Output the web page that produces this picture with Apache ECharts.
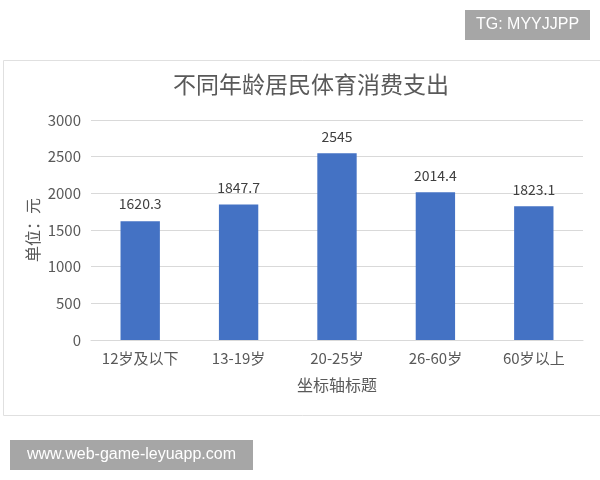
<!DOCTYPE html>
<html><head><meta charset="utf-8">
<script src="https://cdn.jsdelivr.net/npm/echarts@6/dist/echarts.min.js"></script>
<style>html,body{margin:0;padding:0;background:#fff}#c{width:600px;height:480px}</style>
</head><body><div id="c"></div>
<script>
var categories = ['12岁及以下', '13-19岁', '20-25岁', '26-60岁', '60岁以上'];
var values = [1620.3, 1847.7, 2545, 2014.4, 1823.1];
var yTicks = [0, 500, 1000, 1500, 2000, 2500, 3000];
var titleText = '不同年龄居民体育消费支出';
var xName = '坐标轴标题';
var yName = '单位：元';
var mark1 = 'TG: MYYJJPP';
var mark2 = 'www.web-game-leyuapp.com';

var font = '"Noto Sans CJK SC", "Noto Sans", sans-serif';
var chart = echarts.init(document.getElementById('c'), null, {renderer: 'canvas'});
chart.setOption({
  backgroundColor: '#fff',
  animation: false,
  textStyle: {fontFamily: font},
  title: {
    text: titleText, left: 168, top: 68,
    textStyle: {fontSize: 23, fontWeight: 'normal', color: '#595959', fontFamily: font}
  },
  grid: {left: 91, right: 17, top: 120, bottom: 140, containLabel: false},
  xAxis: {
    type: 'category', data: categories,
    name: xName, nameLocation: 'middle', nameGap: 37, nameMoveOverlap: false,
    nameTextStyle: {fontSize: 16, color: '#595959'},
    axisLine: {lineStyle: {color: '#d9d9d9'}},
    axisTick: {show: false},
    axisLabel: {fontSize: 15, color: '#595959', margin: 11, interval: 0, hideOverlap: false}
  },
  yAxis: {
    type: 'value', min: yTicks[0], max: yTicks[yTicks.length - 1], interval: 500,
    name: yName, nameLocation: 'middle', nameGap: 50, nameRotate: 90, nameMoveOverlap: false,
    nameTextStyle: {fontSize: 16, color: '#595959'},
    axisLine: {show: false}, axisTick: {show: false},
    axisLabel: {fontSize: 15, color: '#595959', margin: 10, formatter: function (v) { return String(v); }},
    splitLine: {lineStyle: {color: '#d9d9d9'}}
  },
  series: [{
    type: 'bar', data: values, barWidth: '40%',
    itemStyle: {color: '#4472C4'},
    label: {show: true, position: 'top', distance: 10, fontSize: 14, color: '#404040'}
  }],
  graphic: [
    {type: 'rect', shape: {x: 3.5, y: 60.5, width: 600, height: 355}, style: {fill: 'none', stroke: '#e0e0e0', lineWidth: 1}, z: -1},
    {type: 'rect', shape: {x: 465, y: 10, width: 125, height: 30}, style: {fill: '#a6a6a6'}},
    {type: 'text', x: 527.5, y: 25, style: {text: mark1, fill: '#fff', fontSize: 16, fontFamily: 'Liberation Sans, sans-serif', textAlign: 'center', textVerticalAlign: 'middle'}},
    {type: 'rect', shape: {x: 10, y: 440, width: 243, height: 30}, style: {fill: '#a6a6a6'}},
    {type: 'text', x: 131.5, y: 455, style: {text: mark2, fill: '#fff', fontSize: 16, fontFamily: 'Liberation Sans, sans-serif', textAlign: 'center', textVerticalAlign: 'middle'}}
  ]
});
</script></body></html>
